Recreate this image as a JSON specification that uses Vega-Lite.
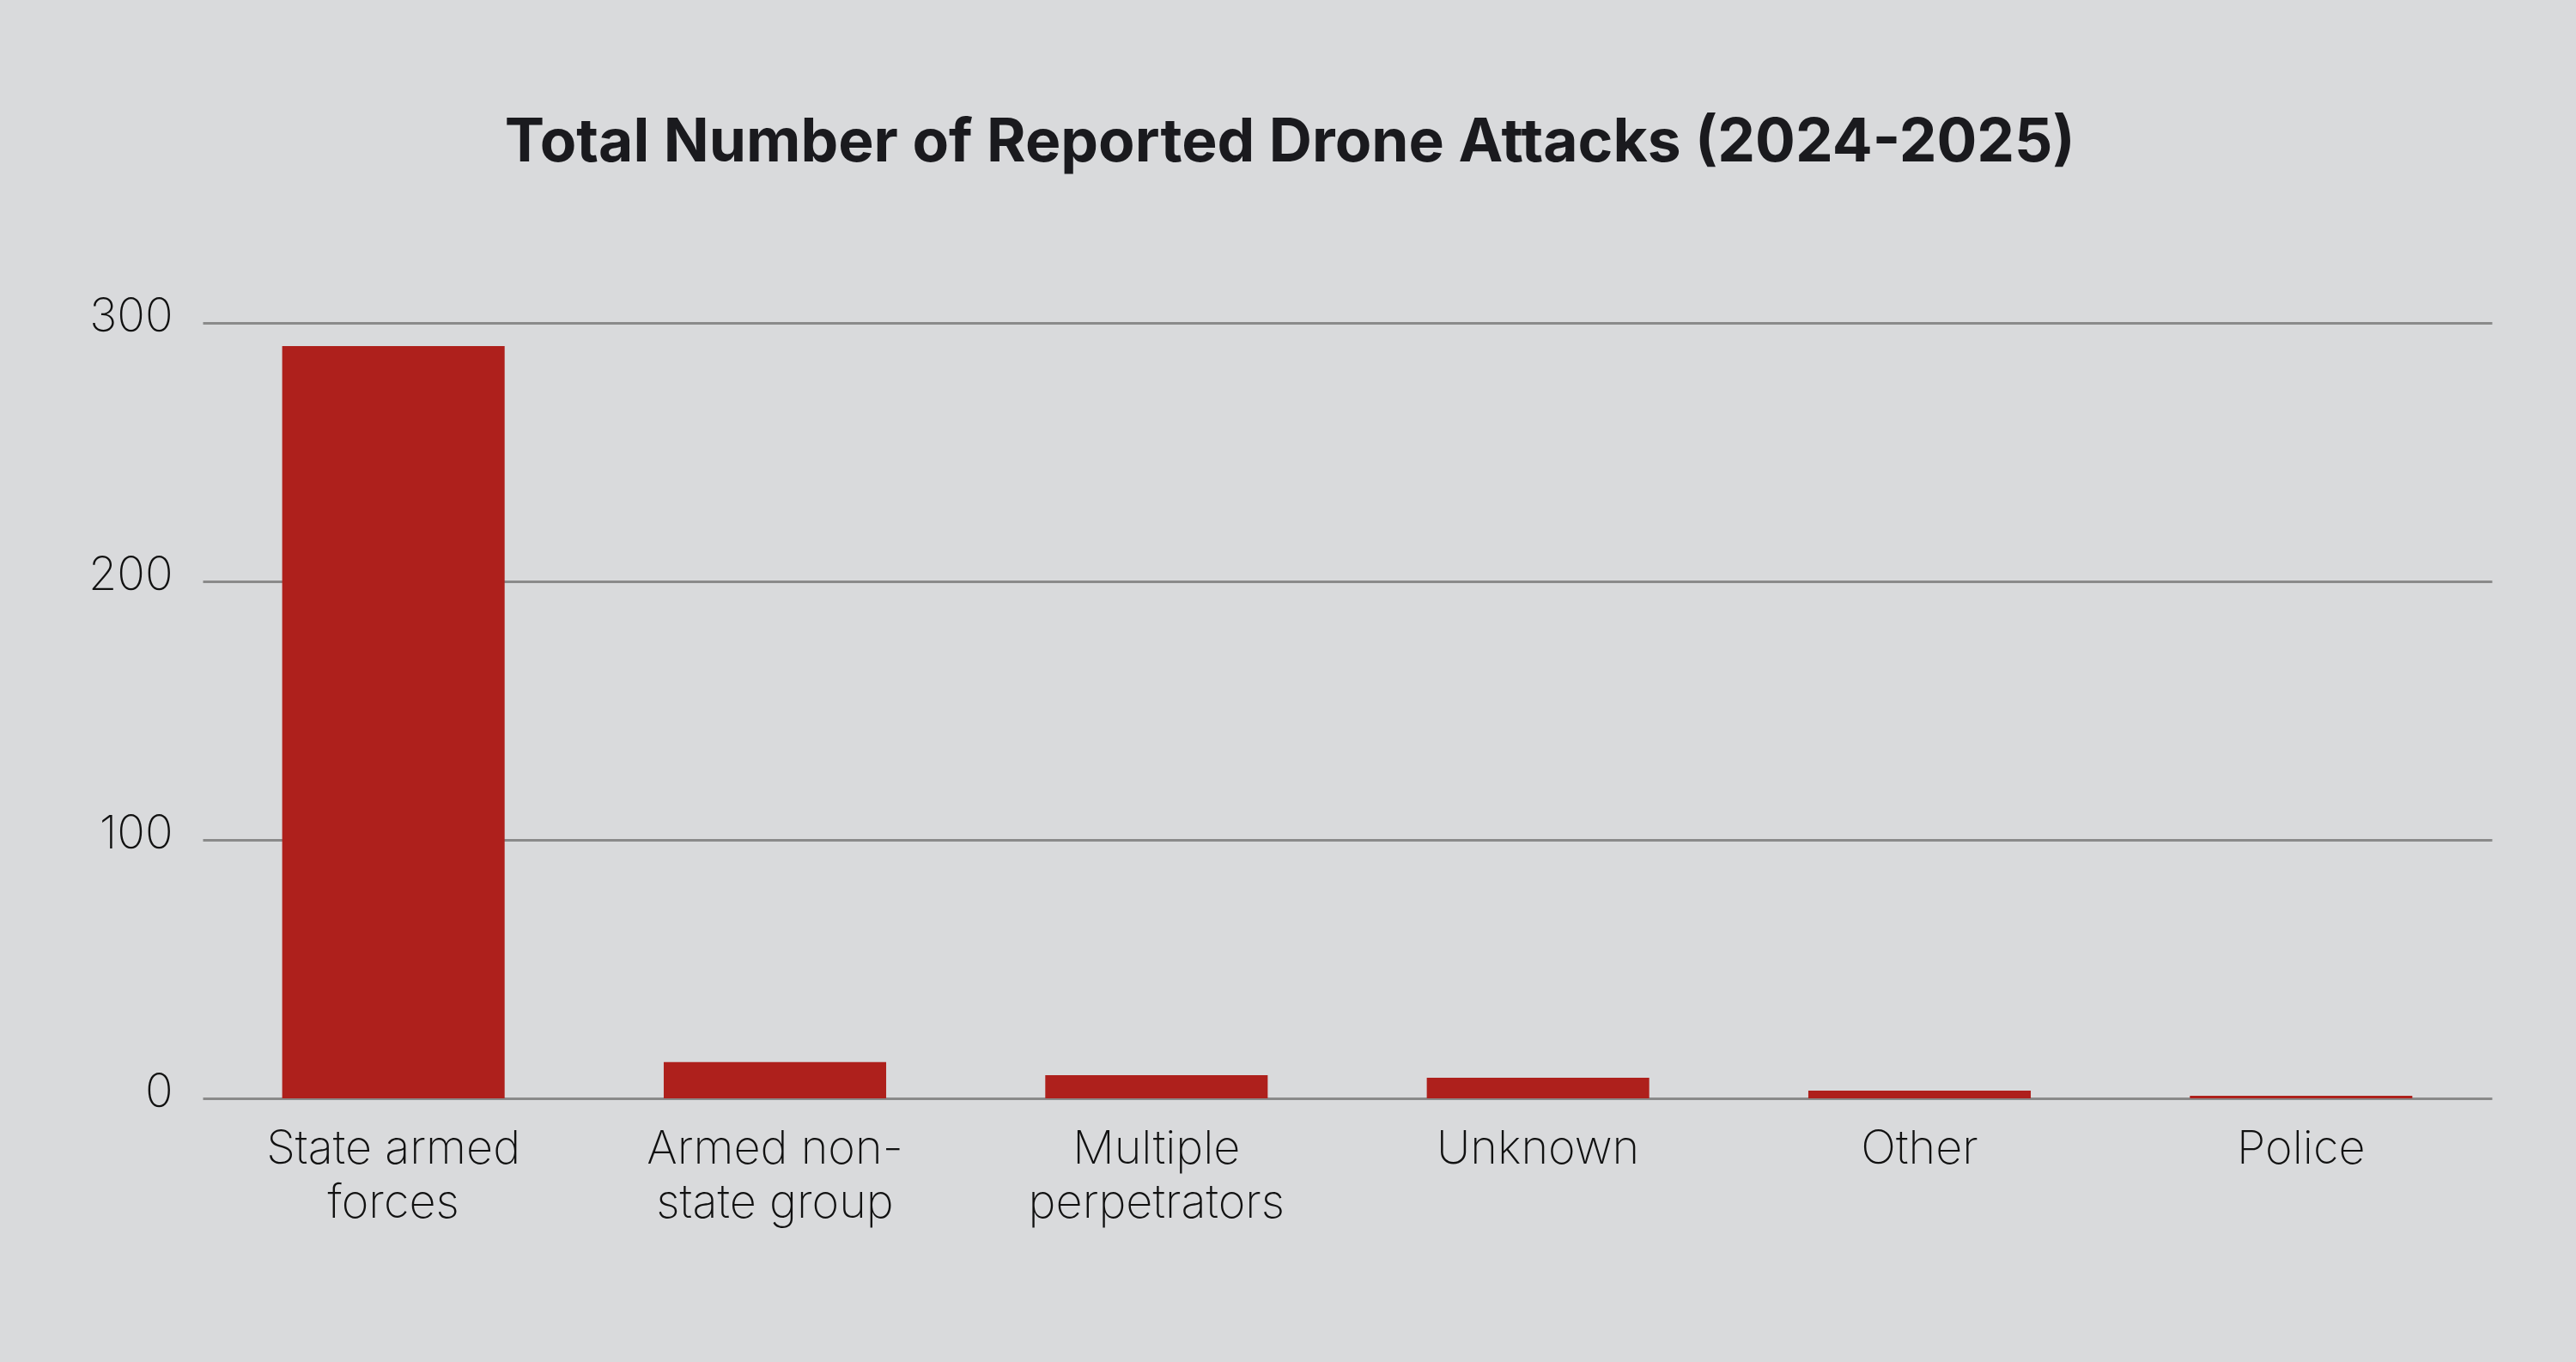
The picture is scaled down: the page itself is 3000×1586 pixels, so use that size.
{
  "$schema": "https://vega.github.io/schema/vega-lite/v6.json",
  "autosize": "none",
  "width": 2666,
  "height": 903,
  "padding": {"left": 236, "top": 376, "right": 98, "bottom": 307},
  "background": "#d9dadc",
  "title": {
    "text": "Total Number of Reported Drone Attacks (2024-2025)",
    "anchor": "middle",
    "frame": "bounds",
    "font": "Inter",
    "fontSize": 69.5,
    "fontWeight": 700,
    "color": "#1a1a1e",
    "offset": 140
  },
  "data": {
    "values": [
      {"perpetrator": "State armed forces", "attacks": 291},
      {"perpetrator": "Armed non-state group", "attacks": 14},
      {"perpetrator": "Multiple perpetrators", "attacks": 9},
      {"perpetrator": "Unknown", "attacks": 8},
      {"perpetrator": "Other", "attacks": 3},
      {"perpetrator": "Police", "attacks": 1}
    ]
  },
  "mark": {"type": "bar", "color": "#ae201c"},
  "encoding": {
    "x": {
      "field": "perpetrator",
      "type": "nominal",
      "sort": null,
      "title": null,
      "scale": {"paddingInner": 0.417, "paddingOuter": 0.2085},
      "axis": {
        "labelAngle": 0,
        "labelFont": "Inter",
        "labelFontWeight": 200,
        "labelFontSize": 54,
        "labelColor": "#111111",
        "labelLineHeight": 63,
        "labelPadding": 32,
        "labelLimit": 0,
        "ticks": false,
        "domain": false,
        "labelExpr": "datum.value == 'State armed forces' ? ['State armed', 'forces'] : datum.value == 'Armed non-state group' ? ['Armed non-', 'state group'] : datum.value == 'Multiple perpetrators' ? ['Multiple', 'perpetrators'] : datum.value"
      }
    },
    "y": {
      "field": "attacks",
      "type": "quantitative",
      "title": null,
      "scale": {"domain": [0, 300], "nice": false},
      "axis": {
        "values": [0, 100, 200, 300],
        "labelFont": "Inter",
        "labelFontWeight": 200,
        "labelFontSize": 54,
        "labelColor": "#111111",
        "labelBaseline": "alphabetic",
        "labelOffset": 9,
        "labelPadding": 35,
        "ticks": false,
        "domain": false,
        "grid": true,
        "gridColor": "#8a8a8a",
        "gridWidth": 3,
        "gridOpacity": 1
      }
    }
  },
  "config": {
    "view": {"stroke": null},
    "axis": {"zindex": 0}
  }
}
